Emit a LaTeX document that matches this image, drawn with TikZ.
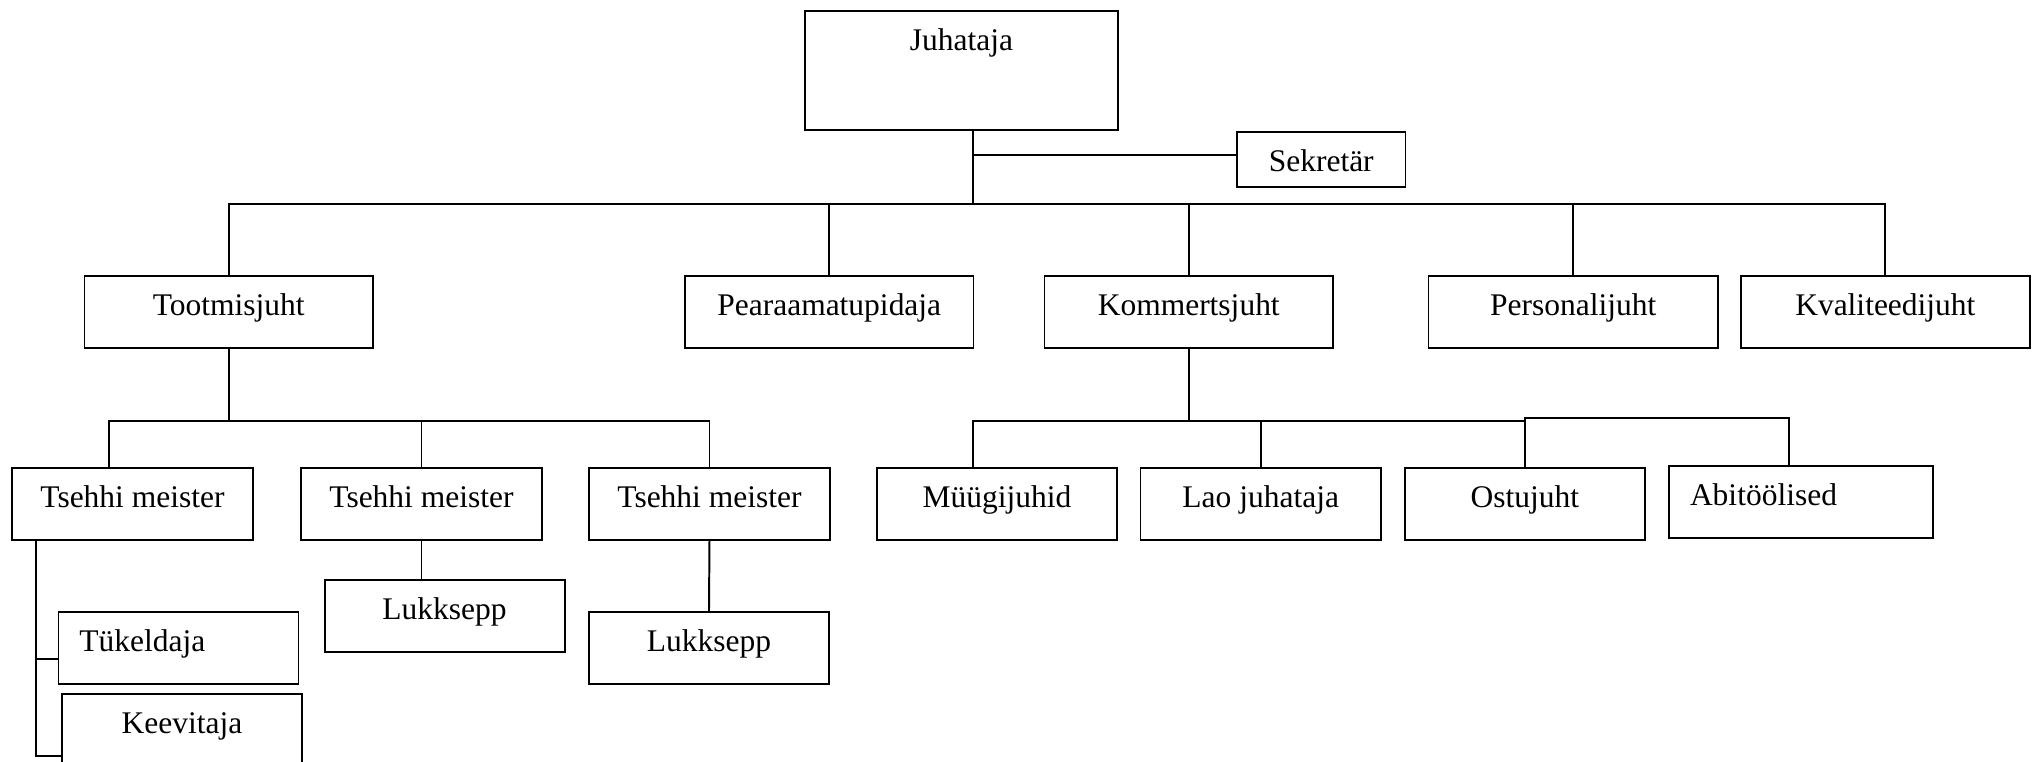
\documentclass[tikz,border=0pt,12pt]{standalone}
\usepackage{fontspec}
\setmainfont{Liberation Serif}
\usetikzlibrary{calc}
\newdimen\px
\px=0.381pt
\begin{document}
\begin{tikzpicture}[x=0.381pt,y=-0.381pt,line width=0.75pt,line cap=rect,
  box/.style={draw,anchor=north west,inner xsep=0pt,inner ysep=0pt,
    text height=40\px,text depth=32\px,minimum width=#1\px},
  box/.default=240,
  leftbox/.style={box,inner xsep=21\px,align=left}]
  \clip (0,0) rectangle (2035,762);
  \node[box=313,text depth=79\px] (juh) at (804,10) {Juhataja};
  \node[box=168.5,text depth=15\px] (sek) at (1236,131) {Sekretär};
  \node[box=288.5] (toot) at (83.5,274.7) {Tootmisjuht};
  \node[box=288.5] (pea) at (684,274.7) {Pearaamatupidaja};
  \node[box=288.5] (kom) at (1043.5,274.7) {Kommertsjuht};
  \node[box=289.5] (pers) at (1427.5,274.7) {Personalijuht};
  \node[box=289.5] (kval) at (1739.6,274.7) {Kvaliteedijuht};
  \node[box=241] (tm1) at (11,466.7) {Tsehhi meister};
  \node[box=241] (tm2) at (300,466.7) {Tsehhi meister};
  \node[box=241] (tm3) at (588,466.7) {Tsehhi meister};
  \node[box] (luk1) at (323.6,578.7) {Lukksepp};
  \node[box] (luk2) at (588,610.7) {Lukksepp};
  \node[leftbox,text width=198\px] (tuk) at (57.5,610.7) {Tükeldaja};
  \node[box] (kee) at (61,692.7) {Keevitaja};
  \node[box=240.5] (mue) at (875.7,466.7) {Müügijuhid};
  \node[box=240.5] (lao) at (1139.5,466.7) {Lao juhataja};
  \node[box=239.6] (ost) at (1404,466.7) {Ostujuht};
  \node[leftbox,text width=222\px] (abi) at (1668,465) {Abitöölised};
  \draw ($(juh.south)+(11.3,0)$) coordinate (jt) -- ++(0,73) coordinate (bus);
  \draw ($(sek.west)+(0,-4.5)$) coordinate (s) -- (s -| jt);
  \draw (toot.north) |- (bus) -| (kval.north);
  \foreach \n in {pea,kom,pers}
    \draw (\n.north) -- (\n.north |- bus);
  \draw (toot.south) -- ++(0,72) coordinate (tb);
  \draw ($(tm1.north)+(-23.5,0)$) |- (tb) -| (tm3.north);
  \draw (tm2.north) -- (tm2.north |- tb);
  \draw (tm2.south) -- (tm2.south |- luk1.north);
  \draw (tm3.south) -- (luk2.north);
  \draw ($(tm1.south west)+(24.8,0)$) coordinate (sp) |- ($(kee.west)+(0,26.3)$);
  \draw ($(tuk.west)+(0,11.2)$) coordinate (t) -- (t -| sp);
  \draw (kom.south) -- ++(0,72) coordinate (kb);
  \draw ($(mue.north)+(-24.3,0)$) |- (kb) -| (ost.north);
  \draw (lao.north) -- (lao.north |- kb);
  \draw (ost.north |- kb) -- ++(0,-3) -| ($(abi.north)+(-12,0)$);
\end{tikzpicture}
\end{document}
